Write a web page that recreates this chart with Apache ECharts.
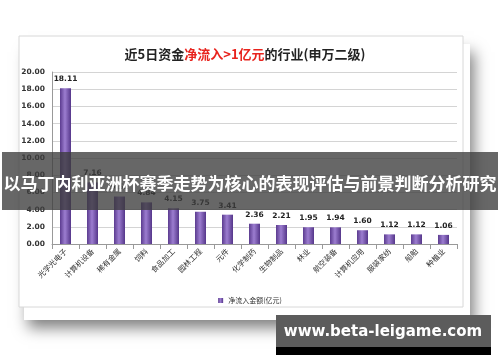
<!DOCTYPE html>
<html><head><meta charset="utf-8">
<script src="https://cdn.jsdelivr.net/npm/echarts@6/dist/echarts.min.js"></script>
<style>html,body{margin:0;padding:0;background:#fff}#c{width:500px;height:362px}</style>
</head><body><div id="c"></div>
<script>
const categories = ['光学光电子','计算机设备','稀有金属','饲料','食品加工','园林工程','元件','化学制药','生物制品','林业','航空装备','计算机应用','服装家纺','船舶','种植业'];
const values = [18.11, 7.16, 5.52, 4.84, 4.15, 3.75, 3.41, 2.36, 2.21, 1.95, 1.94, 1.60, 1.12, 1.12, 1.06];
const seriesName = '净流入金额(亿元)';
const yMin = 0, yMax = 20, yStep = 2;

const chart = echarts.init(document.getElementById('c'), null, {renderer:'canvas'});
const barColor = new echarts.graphic.LinearGradient(0,0,1,0,[
  {offset:0,color:'#5b3b8f'},{offset:0.45,color:'#9c7dd0'},{offset:1,color:'#55368a'}]);
chart.setOption({
  animation:false,
  backgroundColor:'#fff',
  title:{
    text:'{a|近5日资金}{b|净流入>1亿元}{a|的行业(申万二级)}',
    left:240, top:43, textAlign:'center',
    textStyle:{rich:{
      a:{fontSize:13,fontWeight:'bold',color:'#222',fontFamily:'Noto Sans CJK SC'},
      b:{fontSize:13,fontWeight:'bold',color:'#e8231d',fontFamily:'Noto Sans CJK SC'}}}
  },
  legend:{
    data:[seriesName], left:'center', top:292, itemWidth:5, itemHeight:5, itemGap:3,
    textStyle:{fontSize:7,color:'#333',fontFamily:'Noto Sans CJK SC'}, icon:'rect'
  },
  grid:{left:52,right:43,top:72,bottom:118},
  xAxis:{
    type:'category', data:categories,
    axisLine:{lineStyle:{color:'#999'}},
    axisTick:{show:true,alignWithLabel:false,lineStyle:{color:'#999'}},
    axisLabel:{rotate:45,fontSize:7.5,color:'#333',fontFamily:'Noto Sans CJK SC',interval:0,margin:6}
  },
  yAxis:{
    type:'value', min:yMin, max:yMax, interval:yStep,
    axisLine:{show:true,lineStyle:{color:'#999'}},
    axisLabel:{formatter:v=>v.toFixed(2),fontSize:7.5,fontWeight:'bold',color:'#333',fontFamily:'DejaVu Sans',margin:7},
    splitLine:{lineStyle:{color:'#d4d4d4'}}
  },
  series:[{
    name:seriesName, type:'bar', data:values, barWidth:11,
    itemStyle:{color:barColor},
    label:{show:true,position:'top',formatter:p=>p.value.toFixed(2),fontSize:7.5,fontWeight:'bold',color:'#222',fontFamily:'DejaVu Sans',distance:5}
  }],
  graphic:[
    {type:'rect',z:-10,shape:{x:24,y:44,width:446,height:276},style:{fill:'#fff',shadowBlur:14,shadowOffsetX:4,shadowOffsetY:8,shadowColor:'rgba(0,0,0,0.5)'},silent:true},
    {type:'rect',z:-9,shape:{x:19,y:36,width:444,height:271},style:{fill:'#fff',stroke:'#d8d8d8',lineWidth:1},silent:true},
    {type:'rect',z:100,shape:{x:2,y:152,width:496,height:58},style:{fill:'rgba(60,60,60,0.78)'},silent:true},
    {type:'text',z:101,x:250,y:184,style:{text:'以马丁内利亚洲杯赛季走势为核心的表现评估与前景判断分析研究',fill:'#fff',font:'bold 17px "Noto Sans CJK SC"',textAlign:'center',textVerticalAlign:'middle'},silent:true},
    {type:'rect',z:100,shape:{x:276,y:315,width:215,height:32},style:{fill:'#5c5c5c'},silent:true},
    {type:'rect',z:100,shape:{x:276,y:347,width:215,height:8},style:{fill:'#000'},silent:true},
    {type:'text',z:101,x:383,y:332,style:{text:'www.beta-leigame.com',fill:'#fff',font:'bold 15px "DejaVu Sans"',textAlign:'center',textVerticalAlign:'middle'},silent:true}
  ]
});
</script></body></html>
